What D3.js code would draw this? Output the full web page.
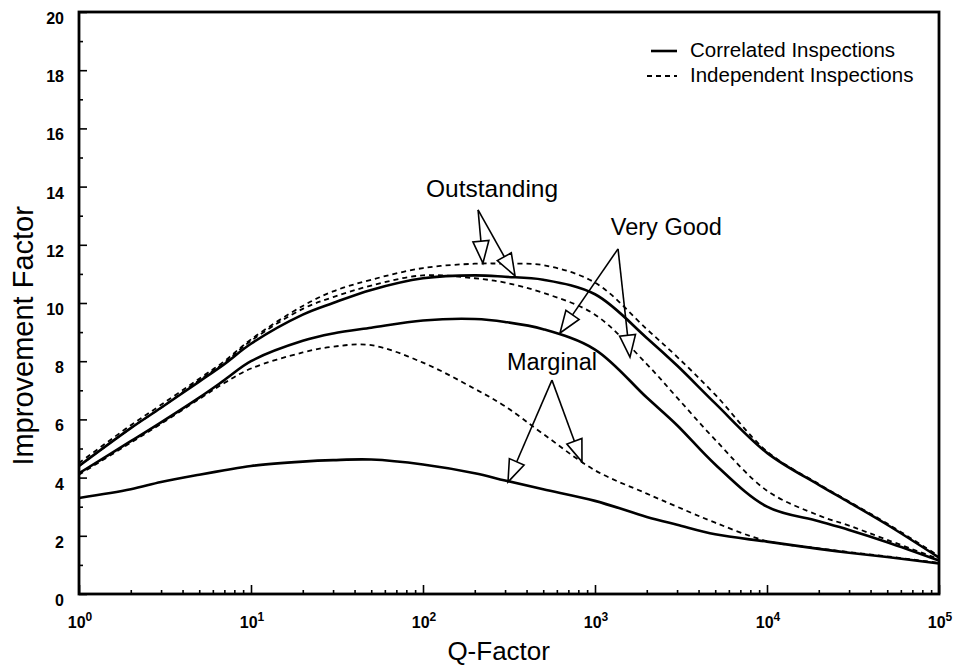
<!DOCTYPE html>
<html>
<head>
<meta charset="utf-8">
<script src="https://cdn.jsdelivr.net/npm/d3@7"></script>
<style>
body { margin: 0; background: #fff; }
#chart svg { display: block; }
</style>
</head>
<body>
<div id="chart"></div>
<script>
// Q-factor sample points (shared by all curves)
var qValues = [1, 2, 3, 5, 7, 10, 20, 30, 50, 100, 200, 300, 500, 1000, 2000, 3000, 5000, 10000, 20000, 30000, 50000, 100000];

// improvement factor
var outstandingCorrelated  = [4.4, 5.7, 6.4, 7.3, 7.9, 8.6, 9.6, 10.0, 10.45, 10.85, 10.95, 10.9, 10.8, 10.3, 8.8, 7.85, 6.55, 4.85, 3.75, 3.15, 2.38, 1.25];
var outstandingIndependent = [4.5, 5.8, 6.5, 7.4, 8.0, 8.75, 9.9, 10.4, 10.8, 11.2, 11.35, 11.35, 11.3, 10.7, 9.1, 8.15, 6.85, 4.9, 3.78, 3.18, 2.42, 1.3];
var veryGoodCorrelated     = [4.15, 5.25, 5.9, 6.75, 7.35, 8.0, 8.7, 8.95, 9.15, 9.4, 9.45, 9.35, 9.1, 8.4, 6.75, 5.8, 4.45, 3.0, 2.5, 2.2, 1.78, 1.15];
var veryGoodIndependent    = [4.4, 5.7, 6.4, 7.35, 7.95, 8.7, 9.8, 10.2, 10.6, 10.95, 10.85, 10.7, 10.35, 9.6, 7.9, 6.75, 5.3, 3.55, 2.7, 2.35, 1.86, 1.2];
var marginalCorrelated     = [3.3, 3.6, 3.85, 4.1, 4.25, 4.4, 4.55, 4.6, 4.62, 4.45, 4.15, 3.9, 3.6, 3.2, 2.65, 2.38, 2.05, 1.8, 1.55, 1.42, 1.27, 1.05];
var marginalIndependent    = [4.1, 5.2, 5.85, 6.7, 7.25, 7.75, 8.3, 8.5, 8.55, 7.95, 7.05, 6.45, 5.5, 4.25, 3.45, 3.0, 2.45, 1.82, 1.57, 1.44, 1.29, 1.07];

var xTickExponents = [0, 1, 2, 3, 4, 5];
var yTickValues = [0, 2, 4, 6, 8, 10, 12, 14, 16, 18, 20];
var legendLabels = ['Correlated Inspections', 'Independent Inspections'];

// annotations: label [Q, value], arrow start [Q, value], arrow tips [[Q, value], ...]
var annotationNames  = ['Outstanding', 'Very Good', 'Marginal'];
var annotationLabels = [[252, 13.64], [2600, 12.34], [562, 7.7]];
var annotationStarts = [[209, 13.2], [1361, 11.86], [562, 7.35]];
var annotationTips   = [
    [[223, 11.37], [343, 10.93]],
    [[626, 8.97], [1597, 8.14]],
    [[312, 3.85], [840, 4.54]]
];

function drawChart() {
    var width = 956, height = 668;
    var margin = { top: 12, right: 17, bottom: 74, left: 79 };
    var innerWidth = width - margin.left - margin.right;
    var innerHeight = height - margin.top - margin.bottom;
    var font = '"Liberation Sans", Arial, Helvetica, sans-serif';

    var svg = d3.select('#chart').append('svg')
        .attr('width', width)
        .attr('height', height)
        .style('font-family', font);

    var g = svg.append('g').attr('transform', 'translate(' + margin.left + ',' + margin.top + ')');

    var x = d3.scaleLog().domain([1, 100000]).range([0, innerWidth]);
    var y = d3.scaleLinear().domain([0, 20]).range([innerHeight, 0]);

    // minor ticks
    var minorX = [];
    for (var e = 0; e < 5; e++) {
        for (var m = 2; m < 10; m++) minorX.push(m * Math.pow(10, e));
    }
    var minorY = d3.range(1, 20, 2);

    g.append('g')
        .attr('transform', 'translate(0,' + innerHeight + ')')
        .call(d3.axisBottom(x).tickValues(minorX).tickSize(-4).tickSizeOuter(0).tickFormat(''));
    g.append('g')
        .attr('transform', 'translate(0,' + innerHeight + ')')
        .call(d3.axisBottom(x).tickValues(xTickExponents.map(function(p){ return Math.pow(10, p); }))
            .tickSize(-9).tickSizeOuter(0).tickFormat(''));
    g.append('g')
        .call(d3.axisLeft(y).tickValues(minorY).tickSize(-4).tickSizeOuter(0).tickFormat(''));
    g.append('g')
        .attr('class', 'yaxis')
        .call(d3.axisLeft(y).tickValues(yTickValues).tickSize(-8).tickSizeOuter(0).tickPadding(15));

    g.selectAll('.tick line').attr('stroke', '#000').attr('stroke-width', 1.6);
    g.selectAll('.domain').remove();

    g.selectAll('.yaxis .tick text')
        .attr('font-family', font)
        .attr('font-size', 16)
        .attr('font-weight', 'bold')
        .attr('fill', '#000')
        .attr('dy', '0.72em')
        .attr('y', 0);

    // x tick labels: 10 with superscript exponent
    var xl = g.selectAll('text.xlab')
        .data(xTickExponents)
        .enter()
        .append('text')
        .attr('class', 'xlab')
        .attr('x', function(d){ return x(Math.pow(10, d)) + 1; })
        .attr('y', innerHeight + 34)
        .attr('text-anchor', 'middle')
        .attr('font-size', 16)
        .attr('font-weight', 'bold');
    xl.append('tspan').text('10');
    xl.append('tspan').attr('dy', -7).attr('font-size', 12).text(function(d){ return d; });

    // frame
    g.append('rect')
        .attr('x', 0).attr('y', 0)
        .attr('width', innerWidth).attr('height', innerHeight)
        .attr('fill', 'none')
        .attr('stroke', '#000')
        .attr('stroke-width', 2.8);

    // axis titles
    svg.append('text')
        .attr('transform', 'translate(33,' + (margin.top + y(8.87)) + ') rotate(-90)')
        .attr('text-anchor', 'middle')
        .attr('font-size', 29)
        .text('Improvement Factor');

    svg.append('text')
        .attr('x', margin.left + x(Math.pow(10, 2.44)))
        .attr('y', 660)
        .attr('text-anchor', 'middle')
        .attr('font-size', 26)
        .text('Q-Factor');

    // curves
    var line = d3.line()
        .x(function(d){ return x(d[0]); })
        .y(function(d){ return y(d[1]); })
        .curve(d3.curveCatmullRom.alpha(0.5));

    var series = [
        { values: outstandingIndependent, dashed: true },
        { values: veryGoodIndependent, dashed: true },
        { values: marginalIndependent, dashed: true },
        { values: outstandingCorrelated, dashed: false },
        { values: veryGoodCorrelated, dashed: false },
        { values: marginalCorrelated, dashed: false }
    ];

    series.forEach(function(s){
        g.append('path')
            .datum(qValues.map(function(q, i){ return [q, s.values[i]]; }))
            .attr('fill', 'none')
            .attr('stroke', '#000')
            .attr('stroke-width', s.dashed ? 1.8 : 2.6)
            .attr('stroke-dasharray', s.dashed ? '5,4' : null)
            .attr('d', line);
    });

    // annotations with open arrowheads
    annotationNames.forEach(function(name, i){
        var lp = annotationLabels[i];
        g.append('text')
            .attr('x', x(lp[0]))
            .attr('y', y(lp[1]))
            .attr('text-anchor', 'middle')
            .attr('font-size', i === 0 ? 24.5 : 23.5)
            .text(name);

        var sx = x(annotationStarts[i][0]), sy = y(annotationStarts[i][1]);
        annotationTips[i].forEach(function(t){
            var tx = x(t[0]), ty = y(t[1]);
            var dx = tx - sx, dy = ty - sy;
            var len = Math.sqrt(dx * dx + dy * dy);
            var ux = dx / len, uy = dy / len;
            var headLen = 22, headHalf = 8;
            var bx = tx - ux * headLen, by = ty - uy * headLen;
            g.append('line')
                .attr('x1', sx).attr('y1', sy)
                .attr('x2', bx).attr('y2', by)
                .attr('stroke', '#000')
                .attr('stroke-width', 1.6);
            g.append('path')
                .attr('d', 'M' + tx + ',' + ty +
                    'L' + (bx - uy * headHalf) + ',' + (by + ux * headHalf) +
                    'L' + (bx + uy * headHalf) + ',' + (by - ux * headHalf) + 'Z')
                .attr('fill', '#fff')
                .attr('stroke', '#000')
                .attr('stroke-width', 1.6)
                .attr('stroke-linejoin', 'miter');
        });
    });

    // legend
    var legend = svg.append('g');
    legendLabels.forEach(function(label, i){
        var ly = 51 + i * 25;
        legend.append('line')
            .attr('x1', i === 0 ? 651 : 647).attr('y1', ly)
            .attr('x2', 677).attr('y2', ly)
            .attr('stroke', '#000')
            .attr('stroke-width', i === 0 ? 2.6 : 1.8)
            .attr('stroke-dasharray', i === 0 ? null : '5,4');
        legend.append('text')
            .attr('x', 690)
            .attr('y', ly + 6)
            .attr('font-size', 20.5)
            .text(label);
    });
}

drawChart();
</script>
</body>
</html>
